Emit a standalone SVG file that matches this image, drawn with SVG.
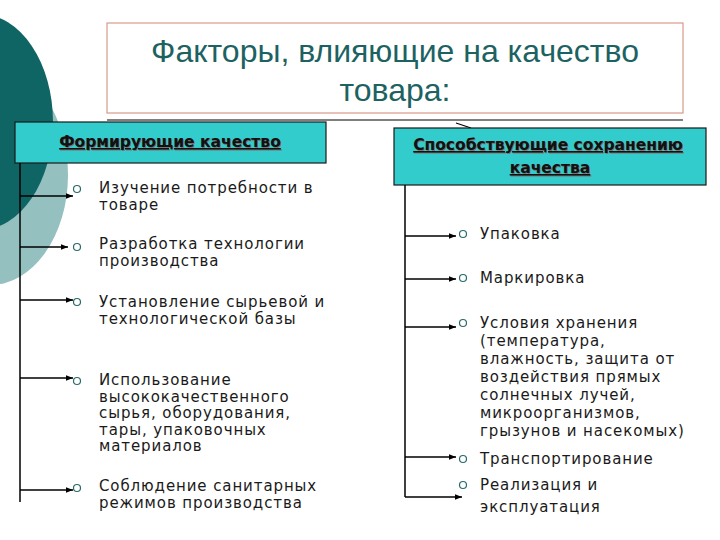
<svg xmlns="http://www.w3.org/2000/svg" width="720" height="540" viewBox="0 0 720 540">
<defs>
<marker id="ah" viewBox="0 0 10 10" refX="10" refY="5" markerWidth="7" markerHeight="7" markerUnits="userSpaceOnUse" orient="auto">
<path d="M0,1 L10,5 L0,9 z" fill="#000"/>
</marker>
</defs>
<style>
.body{font-family:"DejaVu Sans",Verdana,sans-serif;font-size:15px;letter-spacing:0.9px;fill:#1a1a1a}
.hdr{font-family:"DejaVu Sans",Verdana,sans-serif;font-size:15.5px;font-weight:bold;text-decoration:underline;text-anchor:middle}
.sh{fill:#777}
.hf{fill:#111}
.title{font-family:"Liberation Sans",Arial,sans-serif;font-size:32px;fill:#1d6262;text-anchor:middle}
.box{fill:#33cccc;stroke:#1a1a1a;stroke-width:1.2}
.bul{fill:none;stroke:#2a6a6a;stroke-width:1.2}
.conn{stroke:#000;stroke-width:1.5;fill:none}
.arr{stroke:#000;stroke-width:1.5;fill:none;marker-end:url(#ah)}
</style>
<rect width="720" height="540" fill="#fff"/>
<g id="background">
<ellipse cx="-10" cy="175" rx="78" ry="110" fill="#94c0c0"/>
<ellipse cx="-20" cy="122" rx="73" ry="108" fill="#0f6464"/>
</g>
<g id="title">
<rect x="107" y="23" width="576" height="90" fill="#fff" stroke="#d99a8a" stroke-width="1.2"/>
<text class="title" x="395" y="62">Факторы, влияющие на качество</text>
<text class="title" x="395" y="101">товара:</text>
<line x1="107" y1="120" x2="683" y2="120" stroke="#000" stroke-width="1.2"/>
<line x1="456" y1="123" x2="471" y2="128" stroke="#000" stroke-width="1.2"/>
</g>
<g id="left-header">
<rect class="box" x="15" y="122" width="311" height="41"/>
<text class="hdr sh" x="171" y="148">Формирующие качество</text>
<text class="hdr hf" x="170" y="147">Формирующие качество</text>
</g>
<g id="right-header">
<rect class="box" x="394" y="128" width="312" height="57"/>
<text class="hdr sh" x="549" y="151">Способствующие сохранению</text>
<text class="hdr hf" x="548" y="150">Способствующие сохранению</text>
<text class="hdr sh" x="551" y="174">качества</text>
<text class="hdr hf" x="550" y="173">качества</text>
</g>
<g id="connectors">
<line class="conn" x1="20" y1="163" x2="20" y2="502"/>
<line class="arr" x1="20" y1="196" x2="73" y2="196"/>
<line class="arr" x1="20" y1="247" x2="68" y2="247"/>
<line class="arr" x1="20" y1="300" x2="73" y2="300"/>
<line class="arr" x1="20" y1="378" x2="73" y2="378"/>
<line class="arr" x1="20" y1="490" x2="73" y2="490"/>
<line class="conn" x1="405" y1="185" x2="405" y2="497"/>
<line class="arr" x1="405" y1="236" x2="456" y2="236"/>
<line class="arr" x1="405" y1="279" x2="456" y2="279"/>
<line class="arr" x1="405" y1="327" x2="456" y2="327"/>
<line class="arr" x1="405" y1="457" x2="456" y2="457"/>
<line class="arr" x1="405" y1="497" x2="462" y2="497"/>
</g>
<g id="left-item-1">
<circle class="bul" cx="77" cy="189" r="3.5"/>
<text class="body" x="99" y="193">Изучение потребности в</text>
<text class="body" x="99" y="210">товаре</text>
</g>
<g id="left-item-2">
<circle class="bul" cx="77" cy="247" r="3.5"/>
<text class="body" x="99" y="249">Разработка технологии</text>
<text class="body" x="99" y="266">производства</text>
</g>
<g id="left-item-3">
<circle class="bul" cx="77" cy="302" r="3.5"/>
<text class="body" x="99" y="307">Установление сырьевой и</text>
<text class="body" x="99" y="324">технологической базы</text>
</g>
<g id="left-item-4">
<circle class="bul" cx="77" cy="381" r="3.5"/>
<text class="body" x="99" y="385">Использование</text>
<text class="body" x="99" y="401.5">высококачественного</text>
<text class="body" x="99" y="418">сырья, оборудования,</text>
<text class="body" x="99" y="434.5">тары, упаковочных</text>
<text class="body" x="99" y="451">материалов</text>
</g>
<g id="left-item-5">
<circle class="bul" cx="77" cy="488" r="3.5"/>
<text class="body" x="99" y="491">Соблюдение санитарных</text>
<text class="body" x="99" y="508">режимов производства</text>
</g>
<g id="right-item-1">
<circle class="bul" cx="463" cy="234" r="3.5"/>
<text class="body" x="480" y="239">Упаковка</text>
</g>
<g id="right-item-2">
<circle class="bul" cx="463" cy="278" r="3.5"/>
<text class="body" x="480" y="283">Маркировка</text>
</g>
<g id="right-item-3">
<circle class="bul" cx="463" cy="323" r="3.5"/>
<text class="body" x="480" y="328">Условия хранения</text>
<text class="body" x="480" y="346">(температура,</text>
<text class="body" x="480" y="364">влажность, защита от</text>
<text class="body" x="480" y="382">воздействия прямых</text>
<text class="body" x="480" y="400">солнечных лучей,</text>
<text class="body" x="480" y="418">микроорганизмов,</text>
<text class="body" x="480" y="436">грызунов и насекомых)</text>
</g>
<g id="right-item-4">
<circle class="bul" cx="463" cy="459" r="3.5"/>
<text class="body" x="480" y="464">Транспортирование</text>
</g>
<g id="right-item-5">
<circle class="bul" cx="463" cy="485" r="3.5"/>
<text class="body" x="480" y="490">Реализация и</text>
<text class="body" x="480" y="512">эксплуатация</text>
</g>
</svg>
